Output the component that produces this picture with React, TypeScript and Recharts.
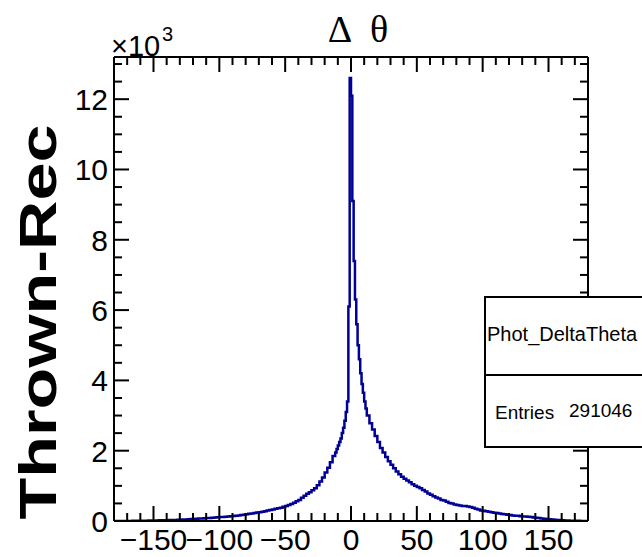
import { Line, LineChart, XAxis, YAxis } from "recharts";

// histogram counts
// 2-degree bins from -180 to -12
const leftCounts = [
  0, 0, 0, 1, 1, 2, 3, 4, 5, 6, 7, 8, 10, 11, 13, 14, 16, 18, 20, 22,
  24, 26, 28, 31, 34, 38, 42, 46, 50, 55, 59, 63, 68, 72, 78, 82, 86, 95, 102, 108,
  112, 116, 121, 128, 136, 142, 150, 160, 168, 178, 192, 204, 216, 228, 240, 252, 264, 280, 296, 312,
  330, 345, 362, 380, 405, 430, 455, 485, 520, 560,
  600, 662, 718, 772, 818, 872, 932, 1018, 1124, 1238, 1382, 1518, 1672, 1848,
];
// 1-degree bins from -12 to 12
const coreCounts = [
  1950, 2050, 2150, 2250, 2350, 2500, 2650, 2850, 3100, 3400, 6100, 12600,
  12100, 9100, 7400, 6300, 5600, 5000, 4600, 4200, 3900, 3650, 3400, 3200,
];
// 2-degree bins from 12 to 180
const rightCounts = [
  3000, 2780, 2600, 2420, 2250, 2080, 1950, 1820, 1700, 1600, 1500, 1410, 1330, 1260,
  1200, 1150, 1100, 1045, 1000, 965, 930, 880, 840, 780, 745, 705, 670, 640, 600, 580,
  550, 510, 495, 470, 455, 440, 430, 425, 410, 400, 380, 350, 325, 300, 290, 280, 262, 250,
  238, 225, 210, 198, 190, 178, 170, 160, 152, 148, 138, 130, 125, 118, 112, 100, 92, 82,
  70, 62, 55, 48, 42, 35, 30, 25, 20, 16, 12, 10, 7, 5, 4, 3, 2, 1,
];

const X_MIN = -180;
const X_MAX = 180;
const Y_MAX = 13200;

const xTicks = Array.from({ length: 35 }, (_, i) => -170 + 10 * i);
const yTicks = Array.from({ length: 27 }, (_, i) => 500 * i);
const xMajor = [-150, -100, -50, 0, 50, 100, 150];
const yMajor = [0, 2000, 4000, 6000, 8000, 10000, 12000];

const histName = "Phot_DeltaTheta";
const entries = "291046";

const histData = [
  ...leftCounts.map((n, i) => ({ x: -180 + 2 * i, n })),
  ...coreCounts.map((n, i) => ({ x: -12 + i, n })),
  ...rightCounts.map((n, i) => ({ x: 12 + 2 * i, n })),
  { x: X_MAX, n: rightCounts[rightCounts.length - 1] },
];

const SANS = "'Liberation Sans', Arial, Helvetica, sans-serif";
const SERIF = "'Liberation Serif', 'Times New Roman', serif";
const MAJOR = 15;
const MINOR = 8;
const LABEL_SIZE = 30;

const fmtX = (v: number) => (v < 0 ? `\u2212${-v}` : `${v}`);

const BottomTick = ({ x, y, payload }: any) => {
  const major = xMajor.includes(payload.value);
  return (
    <g>
      <line x1={x} x2={x} y1={y} y2={y - (major ? MAJOR : MINOR)} stroke="#000" strokeWidth={2} />
      {major && (
        <text x={x} y={y + 29} textAnchor="middle" fontSize={LABEL_SIZE} fontFamily={SANS} fill="#000">
          {fmtX(payload.value)}
        </text>
      )}
    </g>
  );
};

const TopTick = ({ x, y, payload }: any) => {
  const major = xMajor.includes(payload.value);
  return <line x1={x} x2={x} y1={y} y2={y + (major ? MAJOR : MINOR)} stroke="#000" strokeWidth={2} />;
};

const LeftTick = ({ x, y, payload }: any) => {
  const major = yMajor.includes(payload.value);
  return (
    <g>
      <line x1={x} x2={x + (major ? MAJOR : MINOR)} y1={y} y2={y} stroke="#000" strokeWidth={2} />
      {major && (
        <text x={x - 6} y={y + 11} textAnchor="end" fontSize={LABEL_SIZE} fontFamily={SANS} fill="#000">
          {payload.value / 1000}
        </text>
      )}
    </g>
  );
};

const RightTick = ({ x, y, payload }: any) => {
  const major = yMajor.includes(payload.value);
  return <line x1={x} x2={x - (major ? MAJOR : MINOR)} y1={y} y2={y} stroke="#000" strokeWidth={2} />;
};

const axisLine = { stroke: "#000", strokeWidth: 2 };

export default function App() {
  return (
    <div style={{ position: "relative", width: 642, height: 557, overflow: "hidden", background: "#fff" }}>
      <style>{`body{margin:0}`}</style>
      <LineChart
        width={642}
        height={557}
        data={histData}
        margin={{ top: 47, right: 44, bottom: 0, left: 54 }}
      >
        <XAxis
          xAxisId="b"
          dataKey="x"
          type="number"
          domain={[X_MIN, X_MAX]}
          ticks={xTicks}
          interval={0}
          height={36}
          tickSize={0}
          tickMargin={0}
          tickLine={false}
          axisLine={axisLine}
          tick={<BottomTick />}
          allowDataOverflow
        />
        <XAxis
          xAxisId="t"
          orientation="top"
          dataKey="x"
          type="number"
          domain={[X_MIN, X_MAX]}
          ticks={xTicks}
          interval={0}
          height={10}
          tickSize={0}
          tickMargin={0}
          tickLine={false}
          axisLine={axisLine}
          tick={<TopTick />}
          allowDataOverflow
        />
        <YAxis
          yAxisId="l"
          type="number"
          domain={[0, Y_MAX]}
          ticks={yTicks}
          interval={0}
          width={60}
          tickSize={0}
          tickMargin={0}
          tickLine={false}
          axisLine={axisLine}
          tick={<LeftTick />}
          allowDataOverflow
        />
        <YAxis
          yAxisId="r"
          orientation="right"
          type="number"
          domain={[0, Y_MAX]}
          ticks={yTicks}
          interval={0}
          width={10}
          tickSize={0}
          tickMargin={0}
          tickLine={false}
          axisLine={axisLine}
          tick={<RightTick />}
          allowDataOverflow
        />
        <Line
          xAxisId="t"
          yAxisId="r"
          dataKey="n"
          type="stepAfter"
          stroke="none"
          dot={false}
          activeDot={false}
          isAnimationActive={false}
        />
        <Line
          xAxisId="b"
          yAxisId="l"
          dataKey="n"
          type="stepAfter"
          stroke="#000096"
          strokeWidth={2.5}
          dot={false}
          activeDot={false}
          isAnimationActive={false}
        />
      </LineChart>

      <svg width={642} height={557} style={{ position: "absolute", left: 0, top: 0, pointerEvents: "none" }}>
        <text x={340} y={42} textAnchor="middle" fontSize={38} fontFamily={SERIF} fill="#000">
          {"\u0394"}
        </text>
        <text x={379} y={42} textAnchor="middle" fontSize={38} fontFamily={SERIF} fill="#000">
          {"\u03b8"}
        </text>
        <text x={111} y={56} fontSize={29} fontFamily={SANS} fill="#000">
          {"\u00d710"}
        </text>
        <text x={162} y={41} fontSize={20} fontFamily={SANS} fill="#000">
          3
        </text>
        <text
          transform="translate(56,322) rotate(-90)"
          textAnchor="middle"
          fontSize={52}
          fontWeight="bold"
          fontFamily={SANS}
          textLength={395}
          lengthAdjust="spacingAndGlyphs"
          fill="#000"
        >
          Thrown-Rec
        </text>
      </svg>

      <div
        style={{
          position: "absolute",
          left: 484,
          top: 296,
          width: 170,
          height: 152,
          boxSizing: "border-box",
          border: "2px solid #000",
          background: "#fff",
          fontFamily: SANS,
          color: "#000",
        }}
      >
        <div style={{ position: "absolute", left: 0, top: 0, right: 0, height: 76, borderBottom: "2px solid #000" }}>
          <span style={{ position: "absolute", left: 1, top: 25, fontSize: 20, lineHeight: "22px" }}>{histName}</span>
        </div>
        <span style={{ position: "absolute", left: 9, top: 104, fontSize: 19, lineHeight: "22px" }}>Entries</span>
        <span style={{ position: "absolute", left: 83, top: 102, fontSize: 19, lineHeight: "22px" }}>{entries}</span>
      </div>
    </div>
  );
}
